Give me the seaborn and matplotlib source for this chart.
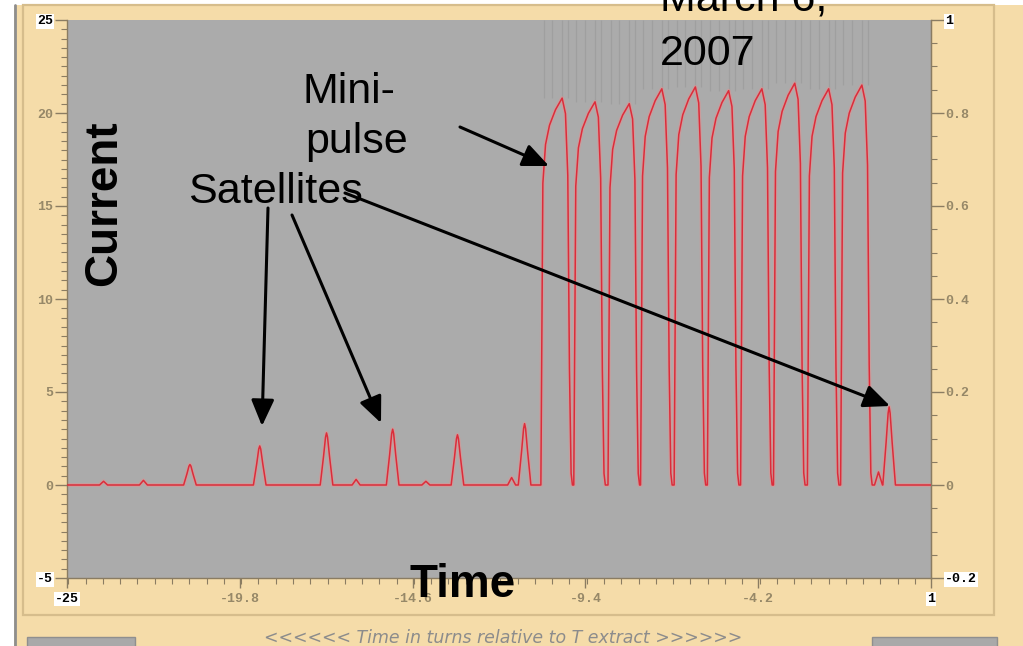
import numpy as np
import pandas as pd
import matplotlib
matplotlib.use("Agg")
import matplotlib.pyplot as plt
import seaborn as sns
from matplotlib.ticker import FixedLocator, MultipleLocator
from matplotlib.patches import Rectangle, FancyArrowPatch
from matplotlib.lines import Line2D

# ---------------- data ----------------
# satellites: narrow spikes (turns, current)
sat_t = [-21.30, -19.20, -17.19, -15.20, -13.25, -11.23, -0.26]
sat_h = [1.1, 2.1, 2.8, 3.0, 2.7, 3.3, 4.2]
# tiny baseline bumps
bump_t = [-23.90, -22.70, -16.30, -14.20, -11.62, -0.58]
bump_h = [0.2, 0.25, 0.3, 0.2, 0.4, 0.7]
# mini-pulses: peak position (turns) and peak current
pulse_t = [-10.10, -9.11, -8.08, -7.10, -6.09, -5.09, -4.09, -3.10, -2.08, -1.08]
pulse_h = [20.8, 20.6, 20.5, 21.3, 21.4, 21.2, 21.3, 21.6, 21.3, 21.5]

x_range = [-25, 1]
y_range = [-5, 25]
y2_range = [-0.2, 1]
x_ticks = [-25, -19.8, -14.6, -9.4, -4.2, 1]
x_ticklabels = ["-25", "-19.8", "-14.6", "-9.4", "-4.2", "1"]
y_ticks = [25, 20, 15, 10, 5, 0, -5]
y_ticklabels = ["25", "20", "15", "10", "5", "0", "-5"]
y2_ticks = [1, 0.8, 0.6, 0.4, 0.2, 0, -0.2]
y2_ticklabels = ["1", "0.8", "0.6", "0.4", "0.2", "0", "-0.2"]

# pulse / spike outline templates (offset in turns, fraction of peak)
pulse_shape_dt = [-0.64, -0.58, -0.50, -0.38, -0.20, 0.0, 0.10, 0.17, 0.22, 0.27, 0.31]
pulse_shape_f = [0.0, 0.78, 0.88, 0.93, 0.97, 1.0, 0.96, 0.80, 0.30, 0.03, 0.0]
sat_shape_dt = [-0.19, -0.09, -0.03, 0.0, 0.03, 0.09, 0.19]
sat_shape_f = [0.0, 0.55, 0.92, 1.0, 0.92, 0.55, 0.0]
bump_shape_dt = [-0.12, 0.0, 0.12]
bump_shape_f = [0.0, 1.0, 0.0]

# ---------------- build trace ----------------
pts = [(x_range[0], 0.0), (x_range[1], 0.0)]
for t, h in zip(pulse_t, pulse_h):
    pts += [(t + d, f * h) for d, f in zip(pulse_shape_dt, pulse_shape_f)]
for t, h in zip(sat_t, sat_h):
    pts += [(t + d, f * h) for d, f in zip(sat_shape_dt, sat_shape_f)]
for t, h in zip(bump_t, bump_h):
    pts += [(t + d, f * h) for d, f in zip(bump_shape_dt, bump_shape_f)]
pts.sort(key=lambda p: p[0])
df = pd.DataFrame(pts, columns=["turns", "current"])

# ---------------- figure ----------------
W, H = 1023, 646
sns.set_style("ticks")
plt.rcParams["font.family"] = ["Liberation Sans", "DejaVu Sans"]

BEIGE = "#F5DCA9"
fig = plt.figure(figsize=(W / 100, H / 100), dpi=100, facecolor=BEIGE)


def fx(px):
    return px / W


def fy(py):
    return 1 - py / H


def frect(x0, y0, x1, y1, **kw):
    fig.add_artist(Rectangle((fx(x0), fy(y1)), fx(x1) - fx(x0), fy(y0) - fy(y1),
                             transform=fig.transFigure, **kw))


# window decorations
frect(0, 0, 14, H, facecolor="white", edgecolor="none", zorder=0)
frect(0, 0, W, 5, facecolor="white", edgecolor="none", zorder=0)
fig.add_artist(Line2D([fx(15), fx(15)], [0, fy(5)], transform=fig.transFigure,
                      color="#8e8e8e", lw=2, zorder=1))
frect(23, 5, 994, 615, facecolor="none", edgecolor="#d6bd8c", lw=1.6, zorder=1)
frect(27, 637, 135, H + 2, facecolor="#a9a9a9", edgecolor="#8f8f8f", lw=1, zorder=1)
frect(872, 637, 997, H + 2, facecolor="#a9a9a9", edgecolor="#8f8f8f", lw=1, zorder=1)

ax = fig.add_axes([fx(67), fy(578), fx(931) - fx(67), fy(20) - fy(578)])
ax.set_facecolor("#ababab")

# faint ghost lines above the mini-pulses
ghost_x, ghost_lo = [], []
for t, h in zip(pulse_t, pulse_h):
    for d in (-0.56, -0.3, 0.0, 0.18):
        ghost_x.append(t + d)
        ghost_lo.append(h)
ax.vlines(ghost_x, ghost_lo, y_range[1], color="#9c9c9c", lw=0.9, alpha=0.8, zorder=1)

sns.lineplot(data=df, x="turns", y="current", ax=ax, color="#f08a8a", lw=2.8,
             alpha=0.45, estimator=None, sort=False, legend=False, zorder=2)
sns.lineplot(data=df, x="turns", y="current", ax=ax, color="#dc2c3a", lw=1.1,
             estimator=None, sort=False, legend=False, zorder=3)

ax.set_xlim(*x_range)
ax.set_ylim(*y_range)
ax.set_xlabel("")
ax.set_ylabel("")

SPINE = "#8a7c62"
LABC = "#968868"
tick_font = dict(family="Liberation Mono", weight="bold", size=9.5)

ax.spines["top"].set_visible(False)
for s in ["left", "bottom", "right"]:
    ax.spines[s].set_color(SPINE)
    ax.spines[s].set_linewidth(1.0)

ax.xaxis.set_major_locator(FixedLocator(x_ticks))
ax.xaxis.set_minor_locator(MultipleLocator(0.52))
ax.set_xticklabels(x_ticklabels)
ax.yaxis.set_major_locator(FixedLocator(y_ticks))
ax.yaxis.set_minor_locator(MultipleLocator(0.5))
ax.set_yticklabels(y_ticklabels)
ax.tick_params(axis="x", which="major", direction="out", length=7, width=1, color=SPINE, pad=4)
ax.tick_params(axis="x", which="minor", direction="out", length=4, width=0.8, color=SPINE)
ax.tick_params(axis="y", which="major", direction="out", length=9, width=1, color=SPINE, pad=1)
ax.tick_params(axis="y", which="minor", direction="out", length=4, width=0.8, color=SPINE)

ax2 = ax.twinx()
ax2.set_ylim(*y2_range)
ax2.yaxis.set_major_locator(FixedLocator(y2_ticks))
ax2.yaxis.set_minor_locator(MultipleLocator(0.05))
ax2.set_yticklabels(y2_ticklabels)
ax2.tick_params(axis="y", which="major", direction="out", length=9, width=1, color=SPINE, pad=1)
ax2.tick_params(axis="y", which="minor", direction="out", length=4, width=0.8, color=SPINE)
for s in ["top", "left", "bottom"]:
    ax2.spines[s].set_visible(False)
ax2.spines["right"].set_color(SPINE)
ax2.grid(False)
ax.grid(False)


def style_labels(labels):
    for i, lab in enumerate(labels):
        lab.set_fontfamily(tick_font["family"])
        lab.set_fontweight(tick_font["weight"])
        lab.set_fontsize(tick_font["size"])
        if i in (0, len(labels) - 1):
            lab.set_color("black")
            lab.set_bbox(dict(facecolor="white", edgecolor="none", pad=0.8))
        else:
            lab.set_color(LABC)


style_labels(ax.get_xticklabels())
style_labels(ax.get_yticklabels())
style_labels(ax2.get_yticklabels())

# ---------------- slide annotations ----------------
big = dict(family="Liberation Sans", color="black", zorder=20)
fig.text(fx(104), fy(203), "Current", rotation=90, fontsize=33, weight="bold",
         ha="center", va="center", **big)
fig.text(fx(463), fy(597), "Time", fontsize=33, weight="bold",
         ha="center", va="baseline", **big)
fig.text(fx(303), fy(103), "Mini-", fontsize=31, ha="left", va="baseline", **big)
fig.text(fx(305), fy(153), "pulse", fontsize=31, ha="left", va="baseline", **big)
fig.text(fx(188), fy(203), "Satellites", fontsize=31, ha="left", va="baseline", **big)
fig.text(fx(660), fy(65), "2007", fontsize=31, ha="left", va="baseline", **big)
fig.text(fx(660), fy(10), "March 6,", fontsize=31, ha="left", va="baseline", **big)

fig.text(fx(503), fy(643), "<<<<<< Time in turns relative to T extract >>>>>>",
         fontsize=12.5, style="italic", color="#8c8c8c", ha="center", va="baseline",
         family="DejaVu Sans", zorder=5)

arrows = [((460, 127), (549, 166)),
          ((268, 208), (262, 426)),
          ((292, 215), (381, 423)),
          ((345, 193), (890, 406))]
for (x0, y0), (x1, y1) in arrows:
    fig.add_artist(FancyArrowPatch((fx(x0), fy(y0)), (fx(x1), fy(y1)),
                                   transform=fig.transFigure,
                                   arrowstyle="-|>,head_length=0.8,head_width=0.35",
                                   mutation_scale=20, lw=2.2, color="black",
                                   shrinkA=0, shrinkB=0, zorder=25))

fig.savefig("out.png", dpi=100, facecolor=BEIGE)
